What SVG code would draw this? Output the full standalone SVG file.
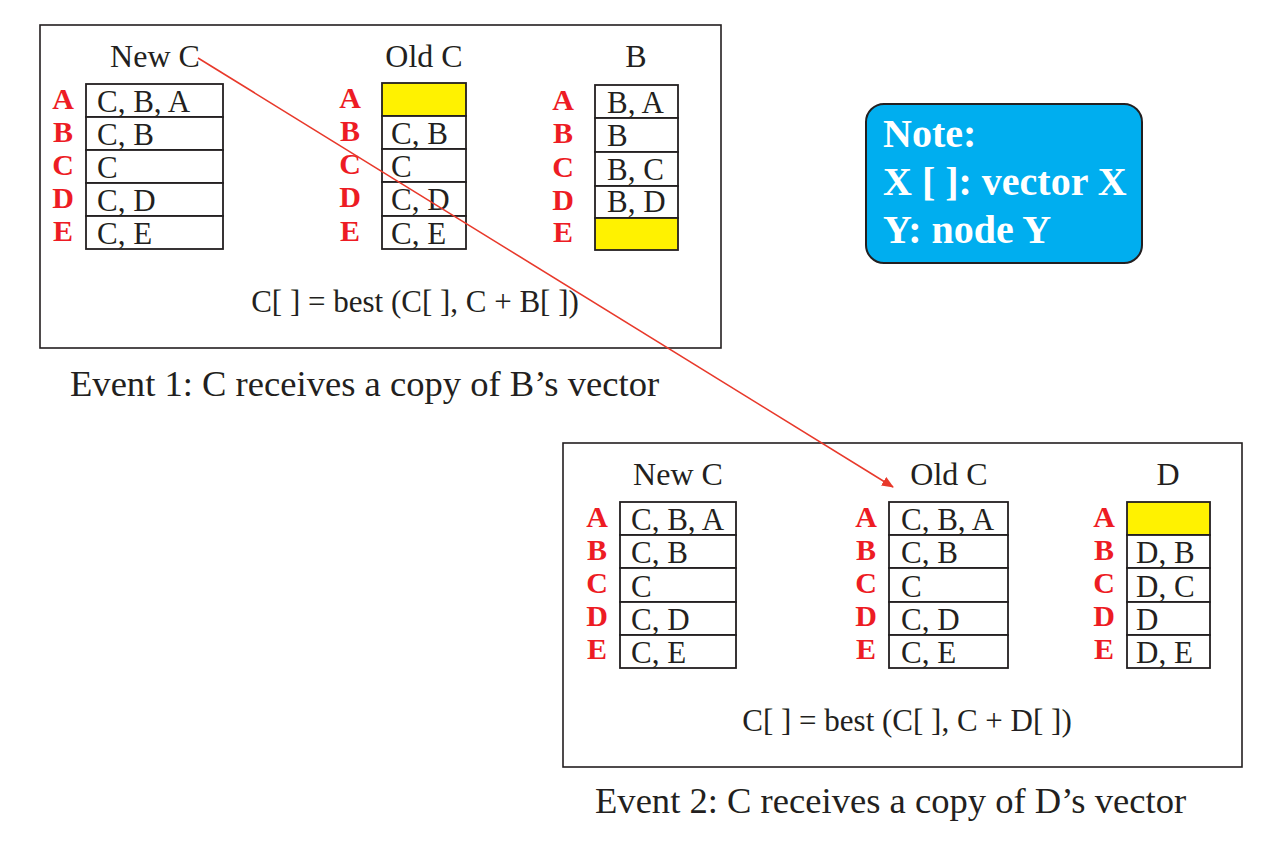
<svg xmlns="http://www.w3.org/2000/svg" width="1286" height="868" viewBox="0 0 1286 868">
<style>
.frame{fill:none;stroke:#231f20;stroke-width:1.6}
.cell{fill:#fff;stroke:#231f20;stroke-width:1.8}
.hl{fill:#fff200;stroke:#231f20;stroke-width:1.8}
.t{font-family:"Liberation Serif",serif;fill:#231f20}
.hd{font-size:32px;text-anchor:middle}
.ct{font-size:31px}
.cap{font-size:36.6px}
.lb{font-family:"Liberation Serif",serif;font-weight:bold;font-size:30px;fill:#ed1c24;text-anchor:middle}
.note{font-family:"Liberation Serif",serif;font-weight:bold;font-size:40px;fill:#fff}
</style>
<defs>
<marker id="ah" markerWidth="12" markerHeight="10" refX="11" refY="5" orient="auto" markerUnits="userSpaceOnUse">
<path d="M0,0 L12,5 L0,10 Z" fill="#e8392b"/>
</marker>
</defs>
<rect width="1286" height="868" fill="#fff"/>

<g id="event1">
<rect class="frame" x="40" y="25" width="681" height="323"/>
<g id="e1-newC">
<text class="t hd" x="155" y="67">New C</text>
<rect class="cell" x="86" y="84" width="137" height="33"/>
<rect class="cell" x="86" y="117" width="137" height="33"/>
<rect class="cell" x="86" y="150" width="137" height="33"/>
<rect class="cell" x="86" y="183" width="137" height="33"/>
<rect class="cell" x="86" y="216" width="137" height="33"/>
<text class="t ct" x="97" y="112">C, B, A</text>
<text class="t ct" x="97" y="145">C, B</text>
<text class="t ct" x="97" y="178">C</text>
<text class="t ct" x="97" y="211">C, D</text>
<text class="t ct" x="97" y="244">C, E</text>
<text class="lb" x="63" y="109">A</text>
<text class="lb" x="63" y="142">B</text>
<text class="lb" x="63" y="175">C</text>
<text class="lb" x="63" y="208">D</text>
<text class="lb" x="63" y="241">E</text>
</g>
<g id="e1-oldC">
<text class="t hd" x="424" y="67">Old C</text>
<rect class="hl" x="382" y="83" width="84" height="33"/>
<rect class="cell" x="382" y="116" width="84" height="33"/>
<rect class="cell" x="382" y="149" width="84" height="33"/>
<rect class="cell" x="382" y="182" width="84" height="34"/>
<rect class="cell" x="382" y="216" width="84" height="33"/>
<text class="t ct" x="391" y="144">C, B</text>
<text class="t ct" x="391" y="177">C</text>
<text class="t ct" x="391" y="210">C, D</text>
<text class="t ct" x="391" y="244">C, E</text>
<text class="lb" x="350" y="108">A</text>
<text class="lb" x="350" y="141">B</text>
<text class="lb" x="350" y="174">C</text>
<text class="lb" x="350" y="207">D</text>
<text class="lb" x="350" y="241">E</text>
</g>
<g id="e1-B">
<text class="t hd" x="636" y="67">B</text>
<rect class="cell" x="595" y="85" width="83" height="33"/>
<rect class="cell" x="595" y="118" width="83" height="34"/>
<rect class="cell" x="595" y="152" width="83" height="34"/>
<rect class="cell" x="595" y="186" width="83" height="32"/>
<rect class="hl" x="595" y="218" width="83" height="32"/>
<text class="t ct" x="607" y="113">B, A</text>
<text class="t ct" x="607" y="146">B</text>
<text class="t ct" x="607" y="180">B, C</text>
<text class="t ct" x="607" y="212">B, D</text>
<text class="lb" x="563" y="110">A</text>
<text class="lb" x="563" y="143">B</text>
<text class="lb" x="563" y="177">C</text>
<text class="lb" x="563" y="210">D</text>
<text class="lb" x="563" y="242">E</text>
</g>
<text class="t ct" x="415" y="312" text-anchor="middle">C[ ] = best (C[ ], C + B[ ])</text>
<text class="t cap" x="70" y="396">Event 1: C receives a copy of B’s vector</text>
</g>

<g id="note">
<rect x="866" y="104" width="276" height="159" rx="18" fill="#00aeef" stroke="#231f20" stroke-width="2"/>
<text class="note" x="883" y="147">Note:</text>
<text class="note" x="883" y="195">X [ ]: vector X</text>
<text class="note" x="883" y="243">Y: node Y</text>
</g>

<g id="event2">
<rect class="frame" x="563" y="443" width="679" height="324"/>
<g id="e2-newC">
<text class="t hd" x="678" y="485">New C</text>
<rect class="cell" x="620" y="502" width="116" height="33"/>
<rect class="cell" x="620" y="535" width="116" height="33"/>
<rect class="cell" x="620" y="568" width="116" height="34"/>
<rect class="cell" x="620" y="602" width="116" height="33"/>
<rect class="cell" x="620" y="635" width="116" height="33"/>
<text class="t ct" x="631" y="530">C, B, A</text>
<text class="t ct" x="631" y="563">C, B</text>
<text class="t ct" x="631" y="597">C</text>
<text class="t ct" x="631" y="630">C, D</text>
<text class="t ct" x="631" y="663">C, E</text>
<text class="lb" x="597" y="527">A</text>
<text class="lb" x="597" y="560">B</text>
<text class="lb" x="597" y="593">C</text>
<text class="lb" x="597" y="626">D</text>
<text class="lb" x="597" y="659">E</text>
</g>
<g id="e2-oldC">
<text class="t hd" x="949" y="485">Old C</text>
<rect class="cell" x="889" y="502" width="119" height="33"/>
<rect class="cell" x="889" y="535" width="119" height="33"/>
<rect class="cell" x="889" y="568" width="119" height="34"/>
<rect class="cell" x="889" y="602" width="119" height="33"/>
<rect class="cell" x="889" y="635" width="119" height="33"/>
<text class="t ct" x="901" y="530">C, B, A</text>
<text class="t ct" x="901" y="563">C, B</text>
<text class="t ct" x="901" y="597">C</text>
<text class="t ct" x="901" y="630">C, D</text>
<text class="t ct" x="901" y="663">C, E</text>
<text class="lb" x="866" y="527">A</text>
<text class="lb" x="866" y="560">B</text>
<text class="lb" x="866" y="593">C</text>
<text class="lb" x="866" y="626">D</text>
<text class="lb" x="866" y="659">E</text>
</g>
<g id="e2-D">
<text class="t hd" x="1168" y="485">D</text>
<rect class="hl" x="1127" y="502" width="83" height="33"/>
<rect class="cell" x="1127" y="535" width="83" height="33"/>
<rect class="cell" x="1127" y="568" width="83" height="34"/>
<rect class="cell" x="1127" y="602" width="83" height="33"/>
<rect class="cell" x="1127" y="635" width="83" height="33"/>
<text class="t ct" x="1136" y="563">D, B</text>
<text class="t ct" x="1136" y="597">D, C</text>
<text class="t ct" x="1136" y="630">D</text>
<text class="t ct" x="1136" y="663">D, E</text>
<text class="lb" x="1104" y="527">A</text>
<text class="lb" x="1104" y="560">B</text>
<text class="lb" x="1104" y="593">C</text>
<text class="lb" x="1104" y="626">D</text>
<text class="lb" x="1104" y="659">E</text>
</g>
<text class="t ct" x="907" y="731" text-anchor="middle">C[ ] = best (C[ ], C + D[ ])</text>
<text class="t cap" x="595" y="813">Event 2: C receives a copy of D’s vector</text>
</g>

<g id="connectors">
<line x1="198" y1="58" x2="893" y2="487" stroke="#e8392b" stroke-width="1.6" marker-end="url(#ah)"/>
</g>
</svg>
